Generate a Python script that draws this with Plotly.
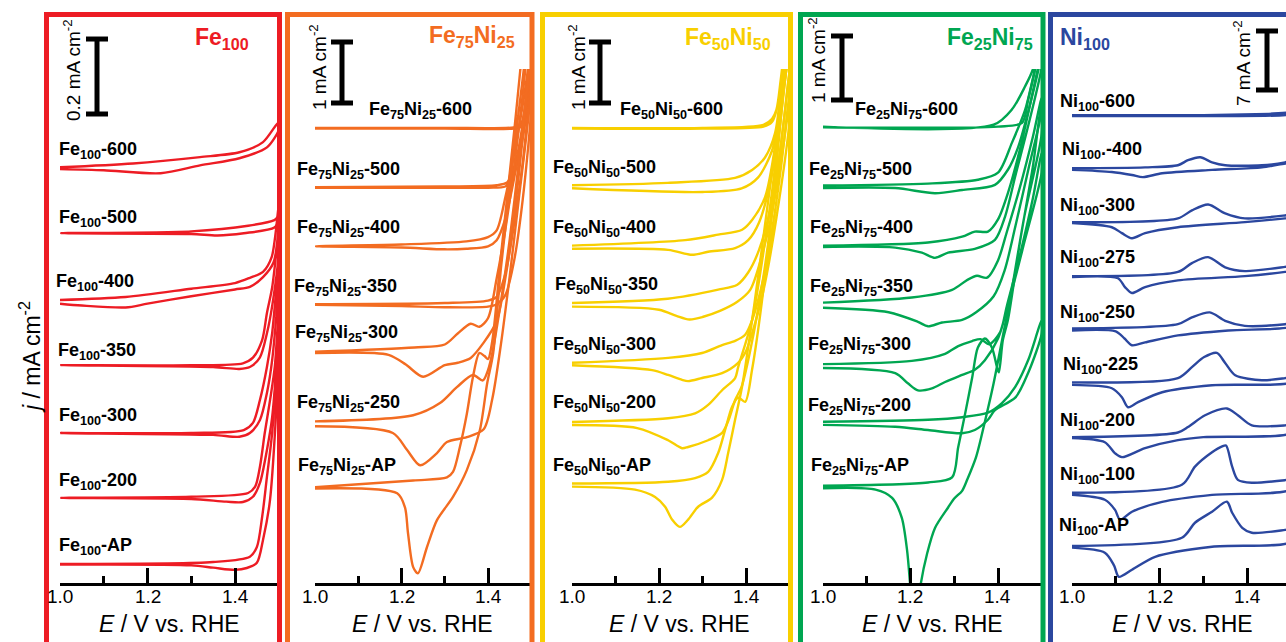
import plotly.graph_objects as go

W, H = 1286, 642
FONT = "Arial, 'Liberation Sans', sans-serif"

RED, ORANGE, YELLOW, GREEN, BLUE = "#ED1C24", "#F36C21", "#F8CF00", "#00A651", "#2B479F"

# ---------------------------------------------------------------------------
# Cyclic voltammograms: potential E (V vs. RHE) and current density j (mA cm^-2).
# Each loop is the anodic sweep 1.0 -> 1.5 V followed by the cathodic return.
# ---------------------------------------------------------------------------

# --- Fe100 ---
FE100_600_E = [1.0, 1.167, 1.32, 1.41, 1.464, 1.5, 1.5, 1.473, 1.41, 1.32, 1.23, 1.1, 1.0]
FE100_600_J = [0.0, 0.01, 0.027, 0.04, 0.067, 0.12, 0.1, 0.053, 0.024, 0.005, -0.016, -0.008, -0.005]
FE100_500_E = [1.0, 1.3, 1.43, 1.49, 1.5, 1.5, 1.49, 1.42, 1.36, 1.3, 1.0]
FE100_500_J = [0.0, 0.005, 0.02, 0.035, 0.045, 0.035, 0.015, 0.0, -0.006, -0.002, 0.0]
FE100_400_E = [1.0, 1.15, 1.3, 1.4, 1.434, 1.464, 1.484, 1.5, 1.5, 1.488, 1.464, 1.434, 1.4, 1.3, 1.2, 1.15, 1.05, 1.0]
FE100_400_J = [0.0, 0.008, 0.03, 0.045, 0.059, 0.075, 0.115, 0.25, 0.2, 0.1, 0.061, 0.035, 0.028, 0.01, -0.01, -0.02, -0.015, -0.01]
FE100_350_E = [1.0, 1.3, 1.418, 1.441, 1.462, 1.473, 1.485, 1.5, 1.5, 1.487, 1.473, 1.457, 1.434, 1.41, 1.35, 1.0]
FE100_350_J = [0.0, 0.0, 0.005, 0.02, 0.067, 0.139, 0.208, 0.35, 0.3, 0.173, 0.085, 0.021, -0.005, -0.01, -0.005, 0.0]
FE100_300_E = [1.0, 1.3, 1.42, 1.441, 1.457, 1.473, 1.485, 1.5, 1.5, 1.485, 1.473, 1.457, 1.434, 1.41, 1.35, 1.0]
FE100_300_J = [0.0, 0.0, 0.008, 0.027, 0.088, 0.176, 0.267, 0.45, 0.4, 0.195, 0.107, 0.035, 0.0, -0.01, -0.005, 0.0]
FE100_200_E = [1.0, 1.3, 1.43, 1.446, 1.457, 1.468, 1.48, 1.491, 1.5, 1.5, 1.485, 1.473, 1.457, 1.441, 1.418, 1.38, 1.3, 1.0]
FE100_200_J = [0.0, 0.003, 0.013, 0.03, 0.083, 0.173, 0.26, 0.35, 0.5, 0.45, 0.216, 0.128, 0.04, 0.003, -0.011, -0.01, -0.003, 0.0]
FE100_AP_E = [1.0, 1.35, 1.434, 1.45, 1.462, 1.473, 1.485, 1.5, 1.5, 1.48, 1.464, 1.45, 1.427, 1.4, 1.35, 1.3, 1.0]
FE100_AP_J = [0.0, 0.005, 0.019, 0.045, 0.125, 0.232, 0.35, 0.6, 0.55, 0.17, 0.064, 0.003, -0.011, -0.016, -0.01, -0.004, -0.002]

# --- Fe75Ni25 ---
FE75_600_E = [1.0, 1.3, 1.46, 1.475, 1.485, 1.495, 1.5, 1.5, 1.49, 1.48, 1.46, 1.3, 1.0]
FE75_600_J = [0.0, 0.0, 0.01, 0.05, 0.3, 1.2, 2.0, 1.8, 0.4, 0.03, -0.01, -0.01, -0.01]
FE75_500_E = [1.0, 1.3, 1.42, 1.445, 1.46, 1.475, 1.49, 1.5, 1.5, 1.485, 1.47, 1.455, 1.44, 1.4, 1.2, 1.0]
FE75_500_J = [0.0, 0.01, 0.03, 0.08, 0.3, 0.8, 1.6, 2.4, 2.0, 1.0, 0.45, 0.12, 0.01, -0.01, -0.01, -0.01]
FE75_400_E = [1.0, 1.2, 1.35, 1.4, 1.42, 1.44, 1.46, 1.48, 1.5, 1.5, 1.48, 1.46, 1.44, 1.42, 1.4, 1.35, 1.3, 1.2, 1.0]
FE75_400_J = [0.0, 0.03, 0.08, 0.15, 0.26, 0.8, 1.5, 2.3, 3.2, 2.8, 1.9, 1.1, 0.45, 0.1, 0.0, -0.04, -0.05, -0.02, 0.0]
FE75_350_E = [1.0, 1.3, 1.4, 1.42, 1.44, 1.46, 1.48, 1.5, 1.5, 1.48, 1.46, 1.44, 1.42, 1.4, 1.3, 1.2, 1.0]
FE75_350_J = [0.0, 0.02, 0.06, 0.12, 0.5, 1.3, 2.3, 3.6, 3.2, 1.7, 0.7, 0.15, 0.0, -0.04, -0.05, -0.03, -0.01]
FE75_300_E = [1.0, 1.23, 1.3, 1.33, 1.36, 1.38, 1.4, 1.42, 1.44, 1.46, 1.48, 1.5,
              1.5, 1.48, 1.46, 1.44, 1.42, 1.39, 1.36, 1.33, 1.3, 1.25, 1.21, 1.17, 1.0]
FE75_300_J = [0.0, 0.07, 0.12, 0.3, 0.46, 0.41, 0.55, 1.2, 2.0, 3.0, 4.2, 5.5,
              5.0, 3.5, 2.2, 1.2, 0.5, 0.15, -0.1, -0.18, -0.22, -0.41, -0.21, -0.05, -0.02]
FE75_250_E = [1.0, 1.227, 1.289, 1.328, 1.365, 1.388, 1.4, 1.41, 1.43, 1.45, 1.47, 1.5,
              1.5, 1.47, 1.45, 1.43, 1.41, 1.39, 1.351, 1.305, 1.282, 1.243, 1.213, 1.18, 1.0]
FE75_250_J = [0.03, 0.13, 0.33, 0.59, 0.79, 0.7, 0.87, 1.15, 2.0, 3.0, 4.2, 6.0,
              5.5, 3.6, 2.4, 1.3, 0.4, -0.1, -0.23, -0.31, -0.49, -0.69, -0.44, -0.16, -0.05]
FE75_AP_E = [1.0, 1.227, 1.305, 1.319, 1.335, 1.351, 1.365, 1.38, 1.392, 1.4, 1.41, 1.43, 1.46, 1.5,
             1.5, 1.46, 1.43, 1.412, 1.398, 1.381, 1.351, 1.319, 1.282, 1.259, 1.238, 1.227, 1.215, 1.208, 1.19, 1.0]
FE75_AP_J = [0.0, 0.11, 0.16, 0.25, 0.66, 1.2, 1.8, 2.2, 2.15, 2.1, 2.4, 3.8, 5.8, 8.5,
             8.0, 5.5, 3.6, 2.2, 1.7, 0.93, 0.28, -0.16, -0.54, -0.98, -1.41, -1.31, -0.75, -0.33, -0.1, -0.02]

# --- Fe50Ni50 ---
FE50_600_E = [1.0, 1.3, 1.44, 1.46, 1.47, 1.48, 1.5, 1.5, 1.48, 1.46, 1.44, 1.3, 1.0]
FE50_600_J = [0.0, 0.0, 0.05, 0.15, 0.3, 0.8, 2.0, 1.8, 0.6, 0.1, 0.02, -0.01, -0.01]
FE50_500_E = [1.0, 1.22, 1.375, 1.414, 1.444, 1.467, 1.48, 1.5, 1.5, 1.48, 1.46, 1.428, 1.39, 1.3, 1.0]
FE50_500_J = [0.03, 0.07, 0.15, 0.28, 0.49, 0.89, 1.6, 3.0, 2.6, 1.3, 0.6, 0.16, -0.02, -0.08, -0.02]
FE50_400_E = [1.0, 1.26, 1.336, 1.391, 1.414, 1.444, 1.47, 1.49, 1.5, 1.5, 1.48, 1.46, 1.43, 1.405, 1.375, 1.313, 1.276, 1.221, 1.0]
FE50_400_J = [0.02, 0.11, 0.2, 0.28, 0.44, 0.82, 1.8, 3.0, 3.8, 3.4, 2.2, 1.2, 0.4, 0.11, -0.02, -0.08, -0.13, -0.05, -0.03]
FE50_350_E = [1.0, 1.22, 1.336, 1.38, 1.405, 1.43, 1.46, 1.48, 1.5, 1.5, 1.47, 1.44, 1.41, 1.38, 1.34, 1.3, 1.27, 1.24, 1.2, 1.0]
FE50_350_J = [0.03, 0.1, 0.25, 0.33, 0.53, 0.9, 1.7, 2.6, 3.8, 3.4, 1.9, 0.9, 0.25, 0.05, -0.1, -0.2, -0.24, -0.18, -0.08, -0.03]
FE50_300_E = [1.0, 1.221, 1.299, 1.345, 1.375, 1.398, 1.414, 1.44, 1.46, 1.48, 1.5,
              1.5, 1.47, 1.44, 1.414, 1.398, 1.382, 1.345, 1.299, 1.267, 1.253, 1.221, 1.184, 1.0]
FE50_300_J = [0.02, 0.1, 0.18, 0.31, 0.38, 0.48, 0.72, 1.4, 2.2, 3.2, 4.4,
              4.0, 2.4, 1.2, 0.5, 0.18, 0.02, -0.15, -0.23, -0.28, -0.26, -0.18, -0.1, -0.02]
FE50_200_E = [1.0, 1.221, 1.283, 1.313, 1.345, 1.375, 1.382, 1.414, 1.44, 1.46, 1.48, 1.5,
              1.5, 1.47, 1.44, 1.41, 1.39, 1.375, 1.36, 1.345, 1.313, 1.267, 1.253, 1.221, 1.15, 1.0]
FE50_200_J = [0.02, 0.08, 0.16, 0.3, 0.54, 0.74, 0.92, 1.69, 2.8, 3.8, 5.0, 6.2,
              5.8, 4.0, 2.4, 1.2, 0.6, 0.38, 0.05, -0.16, -0.28, -0.39, -0.41, -0.28, -0.08, -0.03]
FE50_AP_E = [1.0, 1.221, 1.283, 1.313, 1.336, 1.352, 1.368, 1.382, 1.398, 1.414, 1.44, 1.46, 1.48, 1.5,
             1.5, 1.48, 1.45, 1.42, 1.391, 1.375, 1.359, 1.345, 1.322, 1.29, 1.267, 1.248, 1.23, 1.214, 1.191, 1.145, 1.0]
FE50_AP_J = [0.02, 0.05, 0.11, 0.21, 0.52, 0.9, 1.28, 1.43, 1.36, 1.89, 3.2, 4.5, 6.0, 7.5,
             7.2, 6.2, 4.6, 3.0, 1.61, 1.07, 0.52, 0.08, -0.21, -0.36, -0.57, -0.69, -0.57, -0.36, -0.2, -0.08, -0.03]

# --- Fe25Ni75 ---
FE25_600_E = [1.0, 1.39, 1.432, 1.462, 1.48, 1.5, 1.5, 1.485, 1.469, 1.455, 1.4, 1.0]
FE25_600_J = [0.0, 0.03, 0.27, 0.63, 0.9, 1.5, 1.4, 0.9, 0.42, 0.06, 0.0, -0.01]
FE25_500_E = [1.0, 1.24, 1.354, 1.4, 1.432, 1.462, 1.48, 1.5, 1.5, 1.47, 1.445, 1.423, 1.393, 1.318, 1.256, 1.165, 1.0]
FE25_500_J = [0.02, 0.05, 0.11, 0.22, 0.69, 1.2, 1.7, 2.3, 2.1, 1.2, 0.6, 0.27, 0.03, -0.05, -0.1, -0.02, -0.02]
FE25_400_E = [1.0, 1.24, 1.318, 1.347, 1.377, 1.4, 1.423, 1.45, 1.47, 1.5,
              1.5, 1.47, 1.44, 1.416, 1.393, 1.347, 1.286, 1.256, 1.226, 1.165, 1.0]
FE25_400_J = [0.0, 0.05, 0.14, 0.22, 0.22, 0.41, 0.83, 1.5, 2.1, 3.0,
              2.8, 1.9, 1.1, 0.45, 0.09, -0.05, -0.11, -0.19, -0.11, -0.03, -0.02]
FE25_350_E = [1.0, 1.203, 1.295, 1.331, 1.352, 1.375, 1.4, 1.42, 1.45, 1.48, 1.5,
              1.5, 1.47, 1.44, 1.415, 1.39, 1.35, 1.318, 1.272, 1.24, 1.217, 1.15, 1.0]
FE25_350_J = [0.0, 0.08, 0.2, 0.36, 0.42, 0.39, 0.66, 1.1, 1.8, 2.6, 3.2,
              3.0, 2.1, 1.2, 0.5, 0.1, -0.15, -0.27, -0.31, -0.37, -0.3, -0.15, -0.08]
FE25_300_E = [1.0, 1.203, 1.279, 1.309, 1.341, 1.36, 1.38, 1.405, 1.42, 1.45, 1.48, 1.5,
              1.5, 1.46, 1.43, 1.4, 1.37, 1.347, 1.318, 1.279, 1.249, 1.217, 1.194, 1.165, 1.0]
FE25_300_J = [0.0, 0.05, 0.16, 0.28, 0.36, 0.39, 0.31, 0.5, 0.9, 1.7, 2.6, 3.3,
              3.0, 1.9, 1.1, 0.4, 0.06, -0.09, -0.17, -0.28, -0.38, -0.41, -0.3, -0.14, -0.06]
FE25_200_E = [1.0, 1.24, 1.318, 1.377, 1.409, 1.439, 1.47, 1.5, 1.5, 1.47, 1.44, 1.393, 1.377, 1.347, 1.318, 1.24, 1.165, 1.0]
FE25_200_J = [0.02, 0.05, 0.09, 0.16, 0.31, 0.56, 1.0, 1.6, 1.4, 0.8, 0.4, 0.2, 0.05, -0.11, -0.16, -0.11, -0.06, -0.03]
FE25_AP_E = [1.0, 1.24, 1.295, 1.309, 1.325, 1.341, 1.354, 1.37, 1.386, 1.398, 1.402, 1.411, 1.423, 1.45, 1.48, 1.5,
             1.5, 1.46, 1.43, 1.41, 1.39, 1.37, 1.35, 1.33, 1.318, 1.3, 1.286, 1.256, 1.238, 1.222, 1.21,
             1.199, 1.192, 1.18, 1.158, 1.12, 1.0]
FE25_AP_J = [0.0, 0.05, 0.13, 0.6, 1.13, 1.69, 2.16, 2.3, 2.16, 1.84, 1.77, 2.27, 2.6, 3.8, 5.0, 6.0,
             5.5, 4.2, 3.0, 2.3, 1.6, 1.0, 0.45, 0.1, -0.08, -0.2, -0.34, -0.66, -1.06, -1.6, -2.5,
             -1.53, -1.0, -0.5, -0.19, -0.06, -0.04]

# --- Ni100 ---
NI_600_E = [1.0, 1.3, 1.45, 1.5, 1.5, 1.3, 1.0]
NI_600_J = [0.0, 0.0, 0.15, 0.25, 0.1, -0.1, -0.1]
NI_400_E = [1.0, 1.167, 1.242, 1.265, 1.293, 1.32, 1.35, 1.434, 1.487, 1.5,
            1.5, 1.487, 1.434, 1.32, 1.206, 1.162, 1.137, 1.091, 1.0]
NI_400_J = [0.0, 0.1, 0.35, 0.95, 1.3, 0.7, 0.35, 0.35, 0.7, 0.9,
            0.6, 0.55, 0.1, -0.2, -0.6, -1.05, -0.8, -0.45, -0.2]
NI_300_E = [1.0, 1.242, 1.274, 1.311, 1.35, 1.395, 1.487, 1.5,
            1.5, 1.487, 1.395, 1.242, 1.167, 1.137, 1.114, 1.091, 1.0]
NI_300_J = [0.0, 0.45, 1.4, 2.1, 1.05, 0.45, 0.8, 0.9,
            0.5, 0.45, 0.0, -0.6, -1.3, -1.9, -1.3, -0.6, -0.1]
NI_275_E = [1.0, 1.242, 1.274, 1.311, 1.35, 1.395, 1.487, 1.5,
            1.5, 1.487, 1.395, 1.242, 1.167, 1.137, 1.121, 1.105, 1.0]
NI_275_J = [0.0, 0.5, 1.55, 2.25, 1.05, 0.6, 1.1, 1.2,
            0.6, 0.5, 0.0, -0.5, -1.3, -2.0, -1.3, -0.25, -0.1]
NI_250_E = [1.0, 1.242, 1.274, 1.315, 1.35, 1.395, 1.487, 1.5,
            1.5, 1.357, 1.242, 1.167, 1.137, 1.12, 1.1, 1.0]
NI_250_J = [0.0, 0.5, 1.3, 1.9, 0.9, 0.3, 0.5, 0.6,
            0.2, -0.24, -0.83, -1.66, -2.0, -1.2, -0.35, -0.24]
NI_225_E = [1.0, 1.242, 1.274, 1.302, 1.331, 1.35, 1.373, 1.434, 1.487, 1.5,
            1.5, 1.32, 1.206, 1.151, 1.128, 1.114, 1.091, 1.0]
NI_225_J = [0.1, 0.6, 1.9, 3.1, 3.6, 2.4, 0.95, 0.35, 0.6, 0.7,
            0.1, -0.24, -1.07, -2.25, -2.85, -1.66, -0.6, -0.2]
NI_200_E = [1.0, 1.242, 1.265, 1.304, 1.354, 1.379, 1.411, 1.487, 1.5,
            1.5, 1.3, 1.242, 1.167, 1.114, 1.098, 1.075, 1.0]
NI_200_J = [0.0, 0.55, 1.2, 2.6, 3.4, 2.6, 1.4, 1.4, 1.5,
            0.5, 0.0, -0.36, -1.3, -2.37, -1.9, -0.6, -0.1]
NI_100_E = [1.0, 1.251, 1.281, 1.32, 1.343, 1.352, 1.366, 1.379, 1.411, 1.487, 1.5,
            1.5, 1.32, 1.206, 1.137, 1.11, 1.098, 1.075, 1.0]
NI_100_J = [0.0, 0.95, 3.1, 4.8, 5.5, 5.6, 3.1, 1.54, 1.2, 1.5, 1.6,
            0.4, -0.24, -1.07, -2.25, -3.2, -2.0, -0.83, -0.24]
NI_AP_E = [1.0, 1.251, 1.281, 1.32, 1.354, 1.366, 1.389, 1.411, 1.487, 1.5,
           1.5, 1.32, 1.19, 1.137, 1.107, 1.096, 1.075, 1.0]
NI_AP_J = [0.1, 1.07, 2.85, 4.15, 5.34, 4.03, 2.25, 1.66, 2.0, 2.1,
           0.6, 0.0, -1.19, -2.73, -3.56, -2.2, -0.7, -0.1]

# Vertical offsets of the stacked traces (mA cm^-2)
FE100_OFFSETS = [1.109, 0.933, 0.755, 0.581, 0.400, 0.227, 0.051]
FE75_OFFSETS = [7.46, 6.49, 5.52, 4.57, 3.79, 2.62, 1.57]
FE50_OFFSETS = [7.46, 6.49, 5.51, 4.56, 3.59, 2.62, 1.61]
FE25_OFFSETS = [7.13, 6.19, 5.27, 4.38, 3.42, 2.50, 1.52]
NI_OFFSETS = [55.5, 49.2, 42.8, 36.4, 30.2, 23.7, 17.3, 10.7, 4.3]

FE100_LABELS = ["Fe<sub>100</sub>-" + s for s in ["600", "500", "400", "350", "300", "200", "AP"]]
FE75_LABELS = ["Fe<sub>75</sub>Ni<sub>25</sub>-" + s for s in ["600", "500", "400", "350", "300", "250", "AP"]]
FE50_LABELS = ["Fe<sub>50</sub>Ni<sub>50</sub>-" + s for s in ["600", "500", "400", "350", "300", "200", "AP"]]
FE25_LABELS = ["Fe<sub>25</sub>Ni<sub>75</sub>-" + s for s in ["600", "500", "400", "350", "300", "200", "AP"]]
NI_LABELS = ["Ni<sub>100</sub>-600", "Ni<sub>100</sub>.-400", "Ni<sub>100</sub>-300", "Ni<sub>100</sub>-275",
             "Ni<sub>100</sub>-250", "Ni<sub>100</sub>-225", "Ni<sub>100</sub>-200", "Ni<sub>100</sub>-100",
             "Ni<sub>100</sub>-AP"]

PANEL_TITLES = ["Fe<sub>100</sub>", "Fe<sub>75</sub>Ni<sub>25</sub>", "Fe<sub>50</sub>Ni<sub>50</sub>",
                "Fe<sub>25</sub>Ni<sub>75</sub>", "Ni<sub>100</sub>"]
SCALE_VALUES = [0.2, 1, 1, 1, 7]
SCALE_TEXT = ["0.2 mA cm<sup>-2</sup>", "1 mA cm<sup>-2</sup>", "1 mA cm<sup>-2</sup>",
              "1 mA cm<sup>-2</sup>", "7 mA cm<sup>-2</sup>"]
X_TICKS = [1.0, 1.2, 1.4]
X_MINOR = [1.1, 1.3, 1.5]

panel_curves = [
    [(FE100_600_E, FE100_600_J), (FE100_500_E, FE100_500_J), (FE100_400_E, FE100_400_J),
     (FE100_350_E, FE100_350_J), (FE100_300_E, FE100_300_J), (FE100_200_E, FE100_200_J),
     (FE100_AP_E, FE100_AP_J)],
    [(FE75_600_E, FE75_600_J), (FE75_500_E, FE75_500_J), (FE75_400_E, FE75_400_J),
     (FE75_350_E, FE75_350_J), (FE75_300_E, FE75_300_J), (FE75_250_E, FE75_250_J),
     (FE75_AP_E, FE75_AP_J)],
    [(FE50_600_E, FE50_600_J), (FE50_500_E, FE50_500_J), (FE50_400_E, FE50_400_J),
     (FE50_350_E, FE50_350_J), (FE50_300_E, FE50_300_J), (FE50_200_E, FE50_200_J),
     (FE50_AP_E, FE50_AP_J)],
    [(FE25_600_E, FE25_600_J), (FE25_500_E, FE25_500_J), (FE25_400_E, FE25_400_J),
     (FE25_350_E, FE25_350_J), (FE25_300_E, FE25_300_J), (FE25_200_E, FE25_200_J),
     (FE25_AP_E, FE25_AP_J)],
    [(NI_600_E, NI_600_J), (NI_400_E, NI_400_J), (NI_300_E, NI_300_J), (NI_275_E, NI_275_J),
     (NI_250_E, NI_250_J), (NI_225_E, NI_225_J), (NI_200_E, NI_200_J), (NI_100_E, NI_100_J),
     (NI_AP_E, NI_AP_J)],
]
panel_offsets = [FE100_OFFSETS, FE75_OFFSETS, FE50_OFFSETS, FE25_OFFSETS, NI_OFFSETS]
panel_labels = [FE100_LABELS, FE75_LABELS, FE50_LABELS, FE25_LABELS, NI_LABELS]

# ---------------------------------------------------------------------------
# Layout (pixel geometry of the 1286 x 642 canvas)
# ---------------------------------------------------------------------------
AXIS_Y, TOP_Y = 583, 69          # x-axis line and top of the plotting window
TICK_LABEL_Y = 596
PANELS = [
    dict(x0=60, x1=278.75, emax=1.5, yspan=1.371, color=RED, frame=(46.5, 279.5),
         title=(193, 35), bar=(97, 114), bar_text=(72, 70), axis_title=169),
    dict(x0=315, x1=531.25, emax=1.5, yspan=8.426, color=ORANGE, frame=(287.5, 532),
         title=(427, 33), bar=(342, 103), bar_text=(318, 67), axis_title=422),
    dict(x0=572, x1=789.5, emax=1.5, yspan=8.426, color=YELLOW, frame=(542.5, 790.5),
         title=(683, 34), bar=(600, 103), bar_text=(577, 67), axis_title=680),
    dict(x0=823, x1=1041.75, emax=1.5, yspan=8.03, color=GREEN, frame=(800.5, 1043),
         title=(945, 35), bar=(842, 100), bar_text=(817, 60), axis_title=932),
    dict(x0=1072, x1=1286, emax=1.489, yspan=60.97, color=BLUE, frame=(1050.5, 1310),
         title=(1058, 34), bar=(1267, 90), bar_text=(1242, 63), axis_title=1182),
]
LABEL_POS = [
    [(57, 147), (57, 215), (54, 279), (56, 348), (57, 413), (57, 478), (57, 543)],
    [(367, 107), (295, 167), (295, 225), (292, 284), (293, 330), (295, 400), (296, 463)],
    [(618, 107), (551, 166), (551, 225), (553, 282), (551, 342), (551, 400), (551, 463)],
    [(853, 108), (807, 167), (808, 225), (808, 284), (806, 342), (806, 403), (809, 463)],
    [(1058, 100), (1060, 147), (1058, 203), (1058, 255), (1058, 310), (1061, 363), (1058, 418),
     (1058, 472), (1057, 523)],
]


def px(x):
    return x / W


def py(y):
    return (H - y) / H


fig = go.Figure()
annotations, shapes = [], []
layout = {}

for i, p in enumerate(PANELS):
    n = "" if i == 0 else str(i + 1)
    xa, ya = "x" + n, "y" + n
    for (E, J), off in zip(panel_curves[i], panel_offsets[i]):
        fig.add_trace(go.Scatter(
            x=E, y=[j + off for j in J], mode="lines", xaxis=xa, yaxis=ya,
            line=dict(color=p["color"], width=2.4, shape="spline", smoothing=0.8),
            hoverinfo="skip", showlegend=False))

    layout["xaxis" + n] = dict(
        domain=[px(p["x0"]), min(px(p["x1"]), 1.0)], range=[1.0, p["emax"]], anchor=ya,
        automargin=False, showticklabels=False,
        showline=True, linewidth=3, linecolor="black", showgrid=False, zeroline=False,
        ticks="inside", ticklen=15, tickwidth=3, tickcolor="black", tickvals=X_TICKS,
        minor=dict(tickvals=X_MINOR, ticks="inside", ticklen=7, tickwidth=3, tickcolor="black"),
        fixedrange=True)
    layout["yaxis" + n] = dict(
        domain=[py(AXIS_Y), py(TOP_Y)], range=[0, p["yspan"]], anchor=xa,
        automargin=False, visible=False, fixedrange=True)

    # tick labels placed on the axis' own scale
    for v in X_TICKS:
        annotations.append(dict(x=v, xref=xa, y=py(TICK_LABEL_Y), yref="paper",
                                text=f"{v:.1f}", showarrow=False,
                                xanchor="center", yanchor="middle",
                                font=dict(family=FONT, size=19, color="black")))

    # coloured frame around the panel
    fx0, fx1 = p["frame"]
    shapes.append(dict(type="rect", xref="paper", yref="paper",
                       x0=px(fx0), x1=px(fx1), y0=py(700), y1=py(14.5),
                       line=dict(color=p["color"], width=5), layer="above"))

    # panel title
    tx, ty = p["title"]
    annotations.append(dict(x=px(tx), y=py(ty + 4), xref="paper", yref="paper",
                            text="<b>" + PANEL_TITLES[i] + "</b>", showarrow=False,
                            xanchor="left", yanchor="middle",
                            font=dict(family=FONT, size=23, color=p["color"])))

    # scale bar
    bx, bbot = p["bar"]
    btop = bbot - SCALE_VALUES[i] * (AXIS_Y - TOP_Y) / p["yspan"]
    bar_line = dict(color="black", width=5)
    shapes.append(dict(type="line", xref="paper", yref="paper", x0=px(bx), x1=px(bx),
                       y0=py(bbot), y1=py(btop), line=bar_line, layer="above"))
    for yy in (btop, bbot):
        shapes.append(dict(type="line", xref="paper", yref="paper", x0=px(bx - 11), x1=px(bx + 11),
                           y0=py(yy), y1=py(yy), line=bar_line, layer="above"))
    sx, sy = p["bar_text"]
    annotations.append(dict(x=px(sx), y=py(sy), xref="paper", yref="paper", text=SCALE_TEXT[i],
                            showarrow=False, textangle=-90, xanchor="center", yanchor="middle",
                            font=dict(family=FONT, size=19, color="black")))

    # sample labels
    for lab, (lx, ly) in zip(panel_labels[i], LABEL_POS[i]):
        annotations.append(dict(x=px(lx), y=py(ly + 3), xref="paper", yref="paper",
                                text="<b>" + lab + "</b>", showarrow=False,
                                xanchor="left", yanchor="middle",
                                font=dict(family=FONT, size=18, color="black")))

    # x-axis title
    annotations.append(dict(x=px(p["axis_title"]), y=py(624), xref="paper", yref="paper",
                            text="<i>E</i> / V vs. RHE", showarrow=False,
                            xanchor="center", yanchor="middle",
                            font=dict(family=FONT, size=23, color="black")))

# shared y-axis title
annotations.append(dict(x=px(30), y=py(357), xref="paper", yref="paper",
                        text="<i>j</i> / mA cm<sup>-2</sup>", showarrow=False, textangle=-90,
                        xanchor="center", yanchor="middle",
                        font=dict(family=FONT, size=23, color="black")))

fig.update_layout(
    width=W, height=H, margin=dict(l=0, r=0, t=0, b=0, autoexpand=False),
    paper_bgcolor="white", plot_bgcolor="white",
    annotations=annotations, shapes=shapes, **layout)

fig.write_html("out.html", config=dict(displayModeBar=False))
